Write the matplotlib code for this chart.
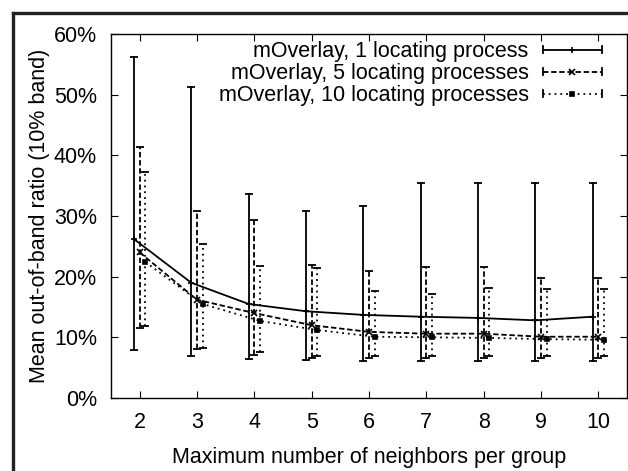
import matplotlib
matplotlib.use("Agg")
import matplotlib.pyplot as plt
import numpy as np
from matplotlib.lines import Line2D
from matplotlib.legend_handler import HandlerBase

plt.rcParams['font.family'] = ['Liberation Sans', 'DejaVu Sans']

groups = [2, 3, 4, 5, 6, 7, 8, 9, 10]
labels = ["mOverlay, 1 locating process",
          "mOverlay, 5 locating processes",
          "mOverlay, 10 locating processes"]

s1_mean = [26.2, 19.0, 15.5, 14.3, 13.7, 13.4, 13.2, 12.8, 13.4]
s1_low = [7.9, 6.9, 6.4, 6.3, 6.1, 6.1, 6.1, 6.1, 6.1]
s1_high = [56.2, 51.3, 33.6, 30.8, 31.6, 35.4, 35.4, 35.4, 35.4]

s2_mean = [24.0, 16.2, 14.0, 12.0, 10.9, 10.6, 10.6, 10.1, 10.1]
s2_low = [11.5, 8.1, 7.1, 6.6, 6.6, 6.6, 6.6, 6.6, 6.6]
s2_high = [41.4, 30.8, 29.3, 21.9, 20.9, 21.6, 21.6, 19.8, 19.8]

s3_mean = [22.4, 15.5, 12.7, 11.2, 10.1, 10.0, 9.9, 9.7, 9.6]
s3_low = [11.9, 8.2, 7.6, 6.9, 6.9, 6.9, 6.9, 6.9, 6.9]
s3_high = [37.3, 25.4, 21.8, 21.4, 17.6, 17.1, 18.1, 17.9, 18.0]

yticks = [0, 10, 20, 30, 40, 50, 60]
ytick_labels = ["0%", "10%", "20%", "30%", "40%", "50%", "60%"]

FS = 15.5

fig = plt.figure(figsize=(6.28, 4.71), dpi=100)
ax = fig.add_axes([111/628, 1-398/471, (627-111)/628, (398-34)/471])

styles = [
    dict(dashes=None, marker='+', ms=5),
    dict(dashes=(3, 1.5), marker='x', ms=4.5),
    dict(dashes=(1, 2.2), marker='s', ms=3.5),
]
offsets = [-0.1, 0.0, 0.1]
series = [(s1_mean, s1_low, s1_high), (s2_mean, s2_low, s2_high), (s3_mean, s3_low, s3_high)]

lw = 1.3
for (m, lo, hi), st, off in zip(series, styles, offsets):
    xs = np.array(groups) + off
    m = np.array(m); lo = np.array(lo); hi = np.array(hi)
    ln, = ax.plot(xs, m, color='k', lw=lw, marker=st['marker'], ms=st['ms'],
                  mfc='k', mec='k', mew=1.2, zorder=3)
    if st['dashes']:
        ln.set_dashes(st['dashes'])
    for x, l, h in zip(xs, lo, hi):
        v, = ax.plot([x, x], [l, h], color='k', lw=lw, zorder=2)
        if st['dashes']:
            v.set_dashes(st['dashes'])
    ax.errorbar(xs, m, yerr=[m - lo, hi - m], fmt='none', ecolor='k',
                elinewidth=0, capsize=3, capthick=lw)


class GnuplotHandler(HandlerBase):
    def __init__(self, st):
        super().__init__()
        self.st = st

    def create_artists(self, legend, orig_handle, xdescent, ydescent,
                       width, height, fontsize, trans):
        y = height / 2 - ydescent
        x0, x1 = -xdescent, width - xdescent
        line = Line2D([x0, x1], [y, y], color='k', lw=lw)
        if self.st['dashes']:
            line.set_dashes(self.st['dashes'])
        cap_h = 2.5
        c1 = Line2D([x0, x0], [y - cap_h, y + cap_h], color='k', lw=lw)
        c2 = Line2D([x1, x1], [y - cap_h, y + cap_h], color='k', lw=lw)
        mk = Line2D([(x0 + x1) / 2], [y], marker=self.st['marker'],
                    ms=self.st['ms'], mfc='k', mec='k', mew=1.2, ls='none')
        arts = [line, c1, c2, mk]
        for a in arts:
            a.set_transform(trans)
        return arts


handles = [Line2D([], []) for _ in labels]
leg = ax.legend(handles, labels, loc='upper right', markerfirst=False,
                frameon=False, fontsize=FS, handlelength=2.75,
                handletextpad=0.65, labelspacing=0.05,
                borderpad=0, borderaxespad=0,
                bbox_to_anchor=(0.951, 0.98),
                handler_map={h: GnuplotHandler(st) for h, st in zip(handles, styles)})

ax.set_xlim(1.5, 10.5)
ax.set_ylim(0, 60)
ax.set_xticks(groups)
ax.set_yticks(yticks)
ax.set_yticklabels(ytick_labels)
ax.tick_params(direction='in', length=5, width=0.8, top=True, right=True,
               labelsize=FS, colors='k')
ax.tick_params(axis='y', pad=10)
ax.tick_params(axis='x', pad=10)
for s in ax.spines.values():
    s.set_linewidth(1.0)

ax.set_xlabel("Maximum number of neighbors per group", fontsize=FS, labelpad=10)
ax.set_ylabel("Mean out-of-band ratio (10% band)", fontsize=FS, labelpad=3)

# outer frame
fw = 2.4
fig.add_artist(Line2D([12.5/628, 12.5/628], [0, 1-12.5/471], transform=fig.transFigure,
                      color='#222222', lw=fw, solid_capstyle='projecting'))
fig.add_artist(Line2D([12.5/628, 1], [1-12.5/471, 1-12.5/471], transform=fig.transFigure,
                      color='#222222', lw=fw, solid_capstyle='projecting'))

fig.savefig("out.png", dpi=100)
